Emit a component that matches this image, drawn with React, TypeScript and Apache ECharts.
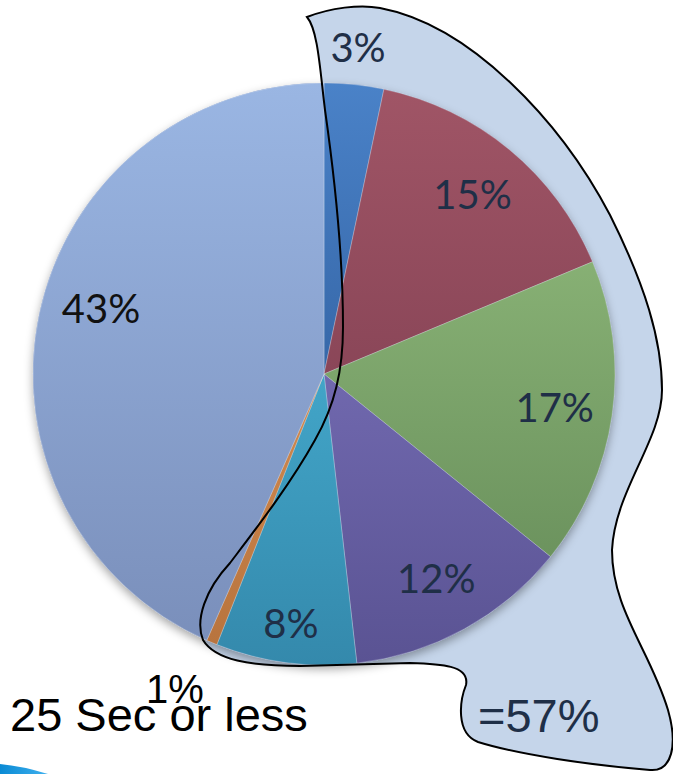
import React, { useEffect, useRef } from 'react';
import * as echarts from 'echarts';

// ---- data ----
const sliceNames = ['Slice 1', 'Slice 2', 'Slice 3', 'Slice 4', 'Slice 5', 'Slice 6', 'Slice 7'];
const sliceValues = [3.3, 15.4, 17.1, 12.4, 7.8, 0.6, 43.4];
const sliceLabels = ['3%', '15%', '17%', '12%', '8%', '1%', '43%'];
const groupTotalText = '=57%';
const captionText = '25 Sec or less';

// ---- styling ----
const CX = 324;
const CY = 374;
const R = 291;
const sliceTop = ['#4a82c8', '#a05566', '#87b074', '#7068ae', '#42a5c8', '#d08a50', '#9ab6e3'];
const sliceBottom = ['#3667a8', '#8a4658', '#6c935e', '#5a5393', '#3489ac', '#b8743e', '#7a8fbb'];
const labelColors = ['#1f2f47', '#1f2f47', '#1f2f47', '#1f2f47', '#1f2f47', '#000000', '#111111'];
const labelFonts = ['Lato', 'Lato', 'Lato', 'Lato', 'Lato', 'Liberation Sans', 'Lato'];
const labelRing = [326, 230, 230, 230, 248, 345, 230];
const labelNudge: Record<number, [number, number]> = { 5: [-15, -6], 6: [5, -18] };

const calloutPath =
  'M 307 17 C 330 8 360 4 380 8 C 470 25 560 120 610 215 C 645 285 662 340 662 390 ' +
  'C 662 440 615 490 612 550 C 612 610 650 650 668 710 C 678 745 672 772 650 770 ' +
  'C 590 765 520 755 478 742 C 455 733 460 700 466 685 C 470 665 440 664 410 663 ' +
  'L 300 666 C 250 666 215 660 203 640 C 195 620 205 590 230 563 ' +
  'C 255 530 290 485 315 440 C 335 405 343 370 343 327 C 343 260 335 180 325 110 ' +
  'C 320 70 318 30 307 17 Z';
const swooshPath = 'M 0 764 Q 22 766 48 774 L 0 774 Z';

let registered = false;
function registerShapes() {
  if (registered) return;
  echarts.graphic.registerShape('callout', echarts.graphic.extendPath(calloutPath, {}));
  echarts.graphic.registerShape('swoosh', echarts.graphic.extendPath(swooshPath, {}));
  registered = true;
}

export default function App() {
  const ref = useRef<HTMLDivElement>(null);

  useEffect(() => {
    if (!ref.current) return;
    registerShapes();
    const chart = echarts.init(ref.current, undefined, { renderer: 'svg' });

    const rings = Array.from(new Set(labelRing));
    const labelSeries = rings.map((r) => ({
      type: 'pie',
      center: [CX, CY],
      radius: [r - 1, r + 1],
      startAngle: 90,
      clockwise: true,
      silent: true,
      z: 20,
      itemStyle: { color: 'rgba(0,0,0,0)' },
      labelLine: { show: false },
      emphasis: { disabled: true },
      label: { show: true, position: 'inside', fontSize: 40, fontFamily: 'Lato' },
      labelLayout: (p: any) => {
        const o = labelNudge[p.dataIndex];
        return o ? { dx: o[0], dy: o[1] } : {};
      },
      data: sliceValues.map((v, i) => ({
        value: v,
        name: sliceNames[i],
        label: {
          show: labelRing[i] === r,
          formatter: sliceLabels[i],
          color: labelColors[i],
          fontFamily: labelFonts[i],
        },
      })),
    }));

    chart.setOption({
      animation: false,
      backgroundColor: '#ffffff',
      graphic: {
        elements: [
          {
            type: 'callout',
            x: 0,
            y: 0,
            z: 0,
            silent: true,
            style: { fill: '#c5d5ea', stroke: 'none' },
          },
          {
            type: 'callout',
            x: 0,
            y: 0,
            z: 100,
            silent: true,
            style: { fill: 'none', stroke: '#000000', lineWidth: 2 },
          },
          {
            type: 'swoosh',
            x: 0,
            y: 0,
            z: 100,
            silent: true,
            style: {
              fill: new echarts.graphic.LinearGradient(0, 0, 1, 0, [
                { offset: 0, color: '#0a8ad4' },
                { offset: 1, color: '#3fb0ee' },
              ]),
            },
          },
          {
            type: 'text',
            x: 10,
            y: 714,
            z: 100,
            style: {
              text: captionText,
              fill: '#000000',
              fontSize: 47,
              fontFamily: 'Liberation Sans',
              align: 'left',
              verticalAlign: 'middle',
            },
          },
          {
            type: 'text',
            x: 478,
            y: 715,
            z: 100,
            style: {
              text: groupTotalText,
              fill: '#1f2f47',
              fontSize: 47,
              fontFamily: 'Liberation Sans',
              align: 'left',
              verticalAlign: 'middle',
            },
          },
        ],
      },
      series: [
        {
          type: 'pie',
          center: [CX, CY],
          radius: R,
          silent: true,
          z: 1,
          label: { show: false },
          labelLine: { show: false },
          itemStyle: {
            color: '#7f93bd',
            shadowBlur: 10,
            shadowColor: 'rgba(0,0,0,0.35)',
            shadowOffsetY: 4,
          },
          data: [{ value: 1, name: 'shadow' }],
        },
        {
          type: 'pie',
          center: [CX, CY],
          radius: R,
          startAngle: 90,
          clockwise: true,
          silent: true,
          z: 2,
          label: { show: false },
          labelLine: { show: false },
          data: sliceValues.map((v, i) => ({
            value: v,
            name: sliceNames[i],
            itemStyle: {
              color: new echarts.graphic.LinearGradient(0, 0, 0, 1, [
                { offset: 0, color: sliceTop[i] },
                { offset: 1, color: sliceBottom[i] },
              ]),
              borderColor: 'rgba(255,255,255,0.25)',
              borderWidth: 1,
            },
          })),
        },
        ...labelSeries,
      ],
    });

    return () => chart.dispose();
  }, []);

  return (
    <div
      ref={ref}
      style={{ position: 'fixed', left: 0, top: 0, width: 673, height: 774, background: '#fff' }}
    />
  );
}
